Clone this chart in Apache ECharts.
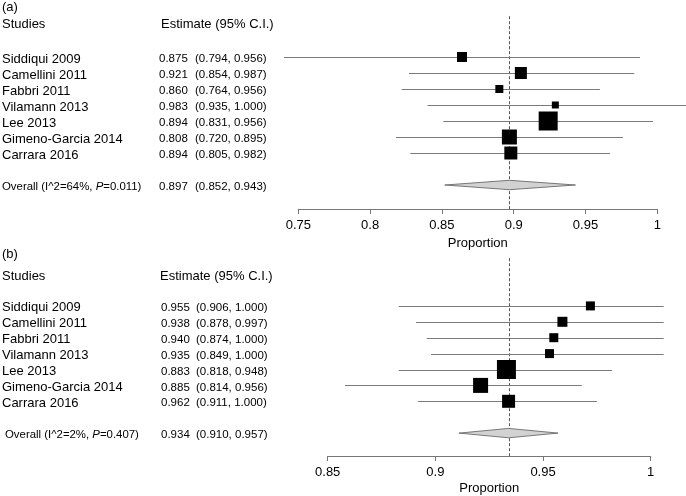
<!DOCTYPE html>
<html>
<head>
<meta charset="utf-8">
<script src="https://cdn.jsdelivr.net/npm/echarts@6/dist/echarts.min.js"></script>
<style>
html, body { margin: 0; background: #fff; }
#main { width: 686px; height: 496px; }
</style>
</head>
<body>
<div id="main"></div>
<script>
// study names, same order in both panels
var studies = ['Siddiqui 2009', 'Camellini 2011', 'Fabbri 2011', 'Vilamann 2013', 'Lee 2013', 'Gimeno-Garcia 2014', 'Carrara 2016'];

// panel (a) - printed columns
var estTextA = ['0.875', '0.921', '0.860', '0.983', '0.894', '0.808', '0.894'];
var ciTextA = ['(0.794, 0.956)', '(0.854, 0.987)', '(0.764, 0.956)', '(0.935, 1.000)', '(0.831, 0.956)', '(0.720, 0.895)', '(0.805, 0.982)'];
// panel (a) - plotted boxes and whiskers (as drawn in the figure)
var pointA = [0.864, 0.905, 0.890, 0.929, 0.924, 0.897, 0.898];
var lowerA = [0.740, 0.827, 0.822, 0.840, 0.851, 0.818, 0.828];
var upperA = [0.988, 0.984, 0.960, 1.020, 0.997, 0.976, 0.967];
var weightA = [10, 12, 8, 7, 19, 15, 13];
var overallA = [0.897, 0.852, 0.943];
var overallLabelA = ['Overall (I^2=64%, ', 'P', '=0.011)'];
var overallTextA = ['0.897', '(0.852, 0.943)'];
var ticksA = [0.75, 0.8, 0.85, 0.9, 0.95, 1];

// panel (b) - printed columns
var estTextB = ['0.955', '0.938', '0.940', '0.935', '0.883', '0.885', '0.962'];
var ciTextB = ['(0.906, 1.000)', '(0.878, 0.997)', '(0.874, 1.000)', '(0.849, 1.000)', '(0.818, 0.948)', '(0.814, 0.956)', '(0.911, 1.000)'];
// panel (b) - plotted boxes and whiskers
var pointB = [0.972, 0.959, 0.955, 0.953, 0.933, 0.921, 0.934];
var lowerB = [0.883, 0.891, 0.896, 0.898, 0.883, 0.858, 0.892];
var upperB = [1.006, 1.006, 1.006, 1.006, 0.982, 0.968, 0.975];
var weightB = [9, 10, 9, 9, 19, 15, 13];
var overallB = [0.934, 0.911, 0.957];
var overallLabelB = ['Overall (I^2=2%, ', 'P', '=0.407)'];
var overallTextB = ['0.934', '(0.910, 0.957)'];
var ticksB = [0.85, 0.9, 0.95, 1];

var FONT = "'Liberation Sans', Arial, Helvetica, sans-serif";
var myChart = echarts.init(document.getElementById('main'));

function crisp(v) { return Math.round(v) + 0.5; }

// boxes + CI lines
function renderStudy(params, api) {
    var row = api.value(0);
    var c = api.coord([api.value(1), row]);
    var lo = api.coord([api.value(2), row]);
    var hi = api.coord([api.value(3), row]);
    var s = api.value(4);
    var y = crisp(c[1]);
    return {
        type: 'group',
        children: [
            { type: 'line', shape: { x1: lo[0], y1: y, x2: hi[0], y2: y }, style: { stroke: '#7a7a7a', lineWidth: 1 } },
            { type: 'rect', shape: { x: c[0] - s / 2, y: c[1] - s / 2, width: s, height: s }, style: { fill: '#000' } }
        ]
    };
}

// pooled diamond
function renderDiamond(params, api) {
    var row = api.value(0);
    var c = api.coord([api.value(1), row]);
    var lo = api.coord([api.value(2), row]);
    var hi = api.coord([api.value(3), row]);
    var h = 4.7;
    return {
        type: 'polygon',
        shape: { points: [[lo[0], c[1]], [c[0], c[1] - h], [hi[0], c[1]], [c[0], c[1] + h]] },
        style: { fill: '#d2d2d2', stroke: '#5a5a5a', lineWidth: 0.8 }
    };
}

// dashed line at pooled estimate
function renderRef(params, api) {
    var top = api.coord([api.value(0), api.value(1)]);
    var bot = api.coord([api.value(0), api.value(2)]);
    var x = crisp(top[0]);
    return {
        type: 'line',
        shape: { x1: x, y1: top[1], x2: x, y2: bot[1] },
        style: { stroke: '#555', lineWidth: 1, lineDash: [3, 2] }
    };
}

// text columns on the left
function makeTextRender(cols) {
    return function (params, api) {
        var row = api.value(0);
        var y = api.coord([0, row])[1] + 2;
        var i = params.dataIndex;
        var item = cols.rows[i];
        var kids = [];
        if (item.rich) {
            kids.push({
                type: 'text', x: cols.overallX, y: y,
                style: {
                    text: '{n|' + item.name[0] + '}{i|' + item.name[1] + '}{n|' + item.name[2] + '}',
                    verticalAlign: 'middle', align: 'left',
                    rich: {
                        n: { fontSize: 11.4, fontFamily: FONT, fill: '#000' },
                        i: { fontSize: 11.4, fontFamily: FONT, fontStyle: 'italic', fill: '#000' }
                    }
                }
            });
        } else {
            kids.push({ type: 'text', x: 2, y: y, style: { text: item.name, fontSize: 13, fontFamily: FONT, fill: '#000', verticalAlign: 'middle' } });
        }
        kids.push({ type: 'text', x: cols.estX, y: y, style: { text: item.est, fontSize: 11.5, fontFamily: FONT, fill: '#000', verticalAlign: 'middle' } });
        kids.push({ type: 'text', x: cols.ciX, y: y, style: { text: item.ci, fontSize: 11.5, fontFamily: FONT, fill: '#000', verticalAlign: 'middle' } });
        return { type: 'group', children: kids };
    };
}

function buildPanel(idx, point, lower, upper, weight, overall, estText, ciText, overallLabel, overallText, overallRow, refTop, axisRow, cols) {
    var studyData = [];
    var textRows = [];
    for (var i = 0; i < studies.length; i++) {
        studyData.push([i + 1, point[i], lower[i], upper[i], weight[i]]);
        textRows.push({ name: studies[i], est: estText[i], ci: ciText[i] });
    }
    textRows.push({ name: overallLabel, est: overallText[0], ci: overallText[1], rich: true });
    cols.rows = textRows;
    var textData = textRows.map(function (r, k) { return [k < studies.length ? k + 1 : overallRow]; });
    return [
        { type: 'custom', xAxisIndex: idx, yAxisIndex: idx, renderItem: renderRef, data: [[overall[0], refTop, axisRow]], silent: true, z: 1 },
        { type: 'custom', xAxisIndex: idx, yAxisIndex: idx, renderItem: renderStudy, data: studyData, silent: true, z: 2 },
        { type: 'custom', xAxisIndex: idx, yAxisIndex: idx, renderItem: renderDiamond, data: [[overallRow, overall[0], overall[1], overall[2]]], silent: true, z: 2 },
        { type: 'custom', xAxisIndex: idx, yAxisIndex: idx, renderItem: makeTextRender(cols), data: textData, silent: true, z: 3 }
    ];
}

function makeXAxis(idx, ticks, gap) {
    return {
        type: 'value', gridIndex: idx, position: 'bottom',
        min: ticks[0], max: ticks[ticks.length - 1], interval: 0.05,
        name: 'Proportion', nameLocation: 'middle', nameGap: gap,
        nameTextStyle: { fontSize: 13, fontFamily: FONT, color: '#000' },
        axisLine: { onZero: false, lineStyle: { color: '#777', width: 1 } },
        axisTick: { show: true, length: 5, lineStyle: { color: '#777' } },
        axisLabel: { fontSize: 13, fontFamily: FONT, color: '#000', margin: 10, showMinLabel: true, showMaxLabel: true },
        splitLine: { show: false }
    };
}

var headerStyle = { fontSize: 13, fontFamily: FONT, fill: '#000' };

var option = {
    animation: false,
    backgroundColor: '#fff',
    grid: [
        { left: 298.3, width: 359, top: 9, height: 200, outerBoundsMode: 'none', containLabel: false },
        { left: 327.7, width: 323, top: 258.2, height: 197.8, outerBoundsMode: 'none', containLabel: false }
    ],
    xAxis: [makeXAxis(0, ticksA, 28), makeXAxis(1, ticksB, 26)],
    yAxis: [
        { type: 'value', gridIndex: 0, min: -2, max: 10.5, inverse: true, show: false },
        { type: 'value', gridIndex: 1, min: -2, max: 10.44, inverse: true, show: false }
    ],
    graphic: [
        { type: 'text', left: 2, top: 1, style: Object.assign({ text: '(a)' }, headerStyle) },
        { type: 'text', left: 2, top: 18, style: Object.assign({ text: 'Studies' }, headerStyle) },
        { type: 'text', left: 161, top: 18, style: Object.assign({ text: 'Estimate (95% C.I.)' }, headerStyle) },
        { type: 'text', left: 2, top: 248, style: Object.assign({ text: '(b)' }, headerStyle) },
        { type: 'text', left: 2, top: 270, style: Object.assign({ text: 'Studies' }, headerStyle) },
        { type: 'text', left: 160, top: 270, style: Object.assign({ text: 'Estimate (95% C.I.)' }, headerStyle) }
    ],
    series: [].concat(
        buildPanel(0, pointA, lowerA, upperA, weightA, overallA, estTextA, ciTextA, overallLabelA, overallTextA, 9, -1.55, 10.5,
            { estX: 159, ciX: 195, overallX: 2 }),
        buildPanel(1, pointB, lowerB, upperB, weightB, overallB, estTextB, ciTextB, overallLabelB, overallTextB, 9, -2, 10.44,
            { estX: 161, ciX: 196, overallX: 5 })
    )
};

myChart.setOption(option);
</script>
</body>
</html>
